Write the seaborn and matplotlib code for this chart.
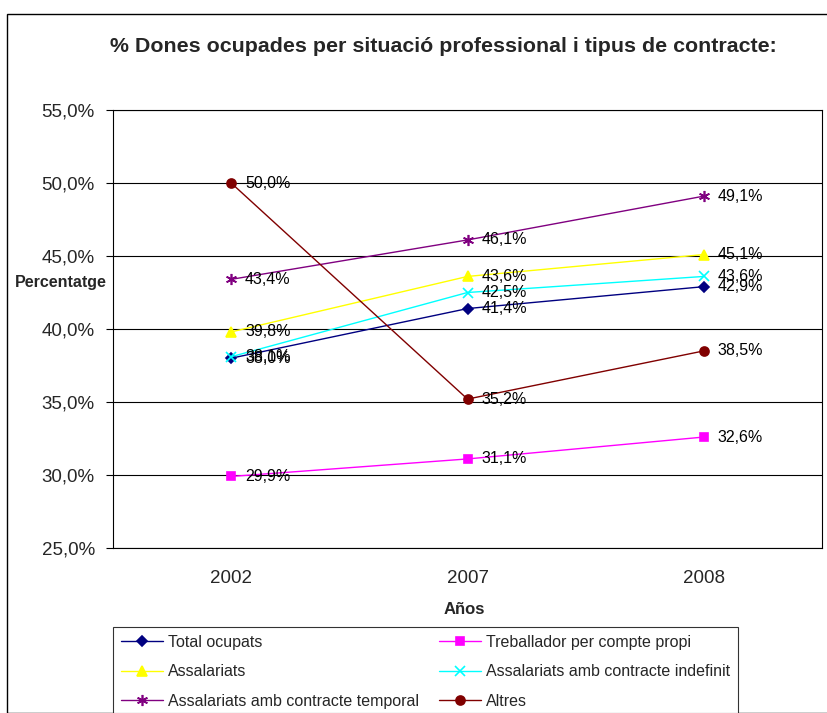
import pandas as pd
import seaborn as sns
import matplotlib.pyplot as plt
from matplotlib.patches import Rectangle
from matplotlib.ticker import FuncFormatter

years = ["2002", "2007", "2008"]
total_ocupats = [38.0, 41.4, 42.9]
compte_propi = [29.9, 31.1, 32.6]
assalariats = [39.8, 43.6, 45.1]
indefinit = [38.1, 42.5, 43.6]
temporal = [43.4, 46.1, 49.1]
altres = [50.0, 35.2, 38.5]

series = {
    "Total ocupats": total_ocupats,
    "Treballador per compte propi": compte_propi,
    "Assalariats": assalariats,
    "Assalariats amb contracte indefinit": indefinit,
    "Assalariats amb contracte temporal": temporal,
    "Altres": altres,
}
colors = ["#000080", "#FF00FF", "#FFFF00", "#00FFFF", "#800080", "#800000"]
markers = ["D", "s", "^", "x", (6, 2, 0), "o"]
msizes = [5.5, 6, 7.5, 7, 8, 6.5]

rows = []
for name, vals in series.items():
    for i, v in enumerate(vals):
        rows.append({"serie": name, "pos": i, "valor": v})
df = pd.DataFrame(rows)

sns.set_style("white")
plt.rcParams["font.family"] = ["Liberation Sans", "DejaVu Sans"]

fig = plt.figure(figsize=(8.27, 7.13), dpi=100)
ax = fig.add_axes([113 / 827, 1 - 548 / 713, (822 - 113) / 827, (548 - 110) / 713])

names = list(series.keys())
for name, c, m, ms in zip(names, colors, markers, msizes):
    sub = df[df.serie == name]
    sns.lineplot(data=sub, x="pos", y="valor", ax=ax, color=c, marker=m,
                 markersize=ms, markeredgecolor=c, markeredgewidth=1.2,
                 linewidth=1, label=name, legend=False)
    for x, y in zip(sub.pos, sub.valor):
        ax.annotate(f"{y:.1f}%".replace(".", ","), (x, y), xytext=(10, 0),
                    textcoords="offset points", va="center", ha="left",
                    fontsize=11.5, color="black")

ax.set_ylim(25, 55)
ax.set_yticks(range(25, 56, 5))
ax.yaxis.set_major_formatter(FuncFormatter(lambda v, p: f"{v:.1f}%".replace(".", ",")))
ax.set_xlim(-0.5, 2.5)
ax.set_xticks([-0.5, 0.5, 1.5, 2.5])
ax.set_xticklabels([])
ax.set_xticks([0, 1, 2], minor=True)
ax.set_xticklabels(years, minor=True)
ax.tick_params(axis="x", which="minor", length=0, labelsize=13.5, pad=16)
ax.tick_params(axis="x", which="major", length=5, direction="out", color="black")
ax.tick_params(axis="y", length=5, direction="out", labelsize=13.5, color="black",
               left=True, pad=8)
ax.grid(axis="y", color="black", linewidth=0.8)
ax.set_axisbelow(True)
for s in ax.spines.values():
    s.set_color("black")
    s.set_linewidth(0.8)

ax.set_xlabel("")
ax.set_ylabel("")
fig.text(464 / 827, 1 - 609 / 713, "Años", fontsize=12, fontweight="bold",
         ha="center", va="center")
fig.text(15 / 827, 1 - 282 / 713, "Percentatge", fontsize=11.5, fontweight="bold",
         ha="left", va="center")

fig.text(443 / 827, 1 - 47 / 713, "% Dones ocupades per situació professional i tipus de contracte:",
         fontsize=15.4, fontweight="bold", ha="center", va="center")

handles, labels = ax.get_legend_handles_labels()
order = [0, 2, 4, 1, 3, 5]
leg = fig.legend([handles[i] for i in order], [labels[i] for i in order],
                 loc="upper left", bbox_to_anchor=(113 / 827, 1 - 627 / 713),
                 ncol=2, fontsize=11.5, frameon=True, fancybox=False,
                 edgecolor="black", handlelength=2.6, handletextpad=0.32,
                 labelspacing=0.9, columnspacing=1.3, borderpad=0.5,
                 borderaxespad=0)
leg.get_frame().set_linewidth(0.8)

fig.patches.append(Rectangle((7 / 827, 0), 1, 1 - 14 / 713, transform=fig.transFigure,
                             fill=False, edgecolor="black", linewidth=1))

fig.savefig("out.png", dpi=100)
